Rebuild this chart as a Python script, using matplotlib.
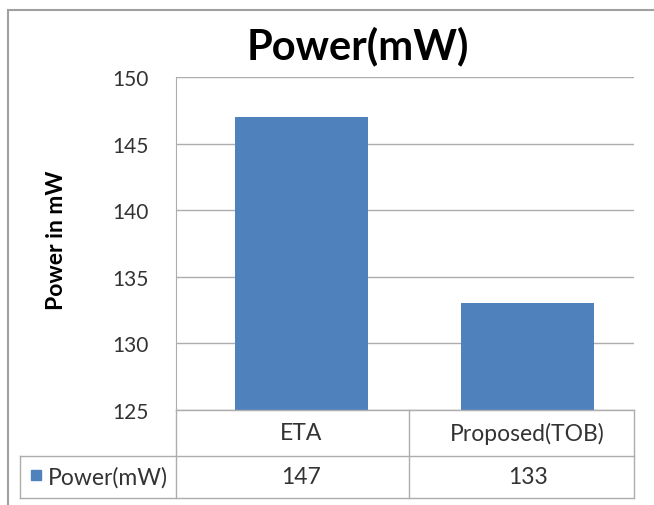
import matplotlib.pyplot as plt
from matplotlib.lines import Line2D
from matplotlib.patches import Rectangle
from matplotlib.transforms import blended_transform_factory

plt.rcParams['font.family'] = ['Lato', 'DejaVu Sans']

# data
categories = ['ETA', 'Proposed(TOB)']
power = [147, 133]
series_name = 'Power(mW)'
yticks = [125, 130, 135, 140, 145, 150]

W, H = 654, 506
bar_color = '#4F81BD'
grid_color = '#ADADAD'
text_color = '#333333'


def fx(x):
    return x / W


def fy(y):
    return 1 - y / H


fig = plt.figure(figsize=(W / 100, H / 100), dpi=100)

# plot area (pixel layout of the original)
left, right, top, bottom = 176, 634, 78, 411
ax = fig.add_axes([fx(left), fy(bottom), fx(right - left), (bottom - top) / H])
x = list(range(len(categories)))
ax.bar(x, power, width=0.59, color=bar_color, zorder=3)
ax.set_xlim(-0.555, 1.471)
ax.set_ylim(yticks[0], yticks[-1])
ax.set_yticks(yticks)
ax.set_xticks([])
ax.yaxis.grid(True, color=grid_color, linewidth=1, zorder=0)
for s in ['top', 'right', 'bottom']:
    ax.spines[s].set_visible(False)
ax.spines['left'].set_color(grid_color)
ax.tick_params(axis='y', length=0, pad=20, labelsize=15, labelcolor=text_color)
ax.set_ylabel('Power in mW', fontsize=16.5, fontweight='bold', color='black')
ax.yaxis.set_label_coords((67 - left) / (right - left), (bottom - 240) / (bottom - top))

fig.text(fx(358), fy(46), 'Power(mW)', ha='center', va='center',
         fontsize=30, fontweight='bold', color='black')

# data table under the plot
row1, row2, row3 = 411, 457, 499
leg_left = 20
col_edges = [left, 409, right]


def hline(y, x0, x1):
    fig.add_artist(Line2D([fx(x0), fx(x1)], [fy(y), fy(y)], color=grid_color, lw=1))


def vline(xp, y0, y1):
    fig.add_artist(Line2D([fx(xp), fx(xp)], [fy(y0), fy(y1)], color=grid_color, lw=1))


hline(row1, left, right)
hline(row2, leg_left, right)
hline(row3, leg_left, right)
vline(leg_left, row2, row3)
for xe in col_edges:
    vline(xe, row1, row3)

# cell texts centred under each bar
tr = blended_transform_factory(ax.transData, fig.transFigure)
for i, cat in enumerate(categories):
    fig.text(x[i], fy((row1 + row2) / 2), cat, ha='center', va='center',
             fontsize=16.5, color=text_color, transform=tr)
    fig.text(x[i], fy((row2 + row3) / 2), str(power[i]), ha='center', va='center',
             fontsize=16.5, color=text_color, transform=tr)

fig.add_artist(Rectangle((fx(31), fy(481)), fx(10), 10 / H, color=bar_color))
fig.text(fx(48), fy((row2 + row3) / 2), series_name, ha='left', va='center',
         fontsize=16.5, color=text_color)

# chart border (runs off the right and bottom edges)
fig.add_artist(Rectangle((fx(8), fy(520)), fx(660), (520 - 11) / H,
                         fill=False, edgecolor='#A0A0A0', lw=1.5))

fig.savefig('out.png', dpi=100)
